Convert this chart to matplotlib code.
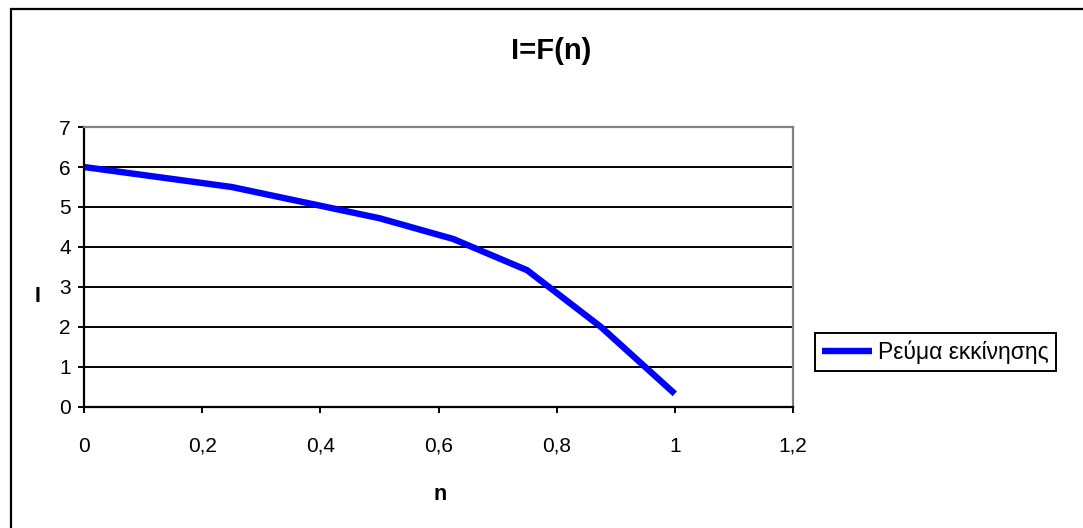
import matplotlib
matplotlib.use("Agg")
import matplotlib.pyplot as plt
from matplotlib.patches import Rectangle

plt.rcParams['font.family'] = ['Liberation Sans', 'DejaVu Sans']

# ---- data ----
n_values = [0, 0.25, 0.5, 0.625, 0.75, 0.875, 1.0]
current_values = [6.0, 5.5, 4.72, 4.2, 3.42, 2.0, 0.33]
series_name = "Ρεύμα εκκίνησης"
title_text = "I=F(n)"
x_label = "n"
y_label = "I"
x_ticks = [0, 0.2, 0.4, 0.6, 0.8, 1.0, 1.2]
x_tick_labels = ["0", "0,2", "0,4", "0,6", "0,8", "1", "1,2"]
y_ticks = [0, 1, 2, 3, 4, 5, 6, 7]
y_tick_labels = ["0", "1", "2", "3", "4", "5", "6", "7"]

W, H = 1083, 528
fig = plt.figure(figsize=(W / 100, H / 100), dpi=100)
fig.patch.set_facecolor("white")

# outer chart-area border (extends past right/bottom edges)
fig.patches.append(Rectangle((11 / W, -0.1), 1.2, (H - 9) / H + 0.1,
                             transform=fig.transFigure, fill=False,
                             edgecolor="black", lw=1.6, clip_on=False))

left, right, top, bottom = 84, 793, 127, 407
ax = fig.add_axes([left / W, (H - bottom) / H, (right - left) / W, (bottom - top) / H])

ax.plot(n_values, current_values, color="#0000FF", lw=4.6, label=series_name,
        solid_joinstyle="round", solid_capstyle="butt")

ax.set_xlim(0, 1.2)
ax.set_ylim(0, 7)
ax.set_xticks(x_ticks)
ax.set_xticklabels(x_tick_labels)
ax.set_yticks(y_ticks)
ax.set_yticklabels(y_tick_labels)

for yv in y_ticks[1:-1]:
    ax.axhline(yv, color="black", lw=1.4, zorder=1)

for s in ["left", "bottom"]:
    ax.spines[s].set_color("black")
    ax.spines[s].set_linewidth(1.6)
for s in ["top", "right"]:
    ax.spines[s].set_color("#808080")
    ax.spines[s].set_linewidth(1.6)

ax.tick_params(axis="both", direction="out", length=4.5, width=1.4, colors="black",
               labelsize=15)
ax.tick_params(axis="x", pad=17)
ax.tick_params(axis="y", pad=5)

fig.text(551 / W, 1 - 51 / H, title_text, ha="center", va="center",
         fontsize=21, fontweight="bold")
fig.text(440 / W, 1 - 494 / H, x_label, ha="center", va="center",
         fontsize=15.5, fontweight="bold")
fig.text(38 / W, 1 - 297 / H, y_label, ha="center", va="center",
         fontsize=15.5, fontweight="bold")

leg = ax.legend(loc="center left", bbox_to_anchor=(815 / W, 1 - 352 / H),
                bbox_transform=fig.transFigure, frameon=True, fancybox=False,
                edgecolor="black", framealpha=1, fontsize=16.5,
                handlelength=2.2, handletextpad=0.25, borderpad=0.3,
                borderaxespad=0)
leg.get_frame().set_linewidth(1.4)

fig.savefig("out.png", dpi=100, facecolor="white")
